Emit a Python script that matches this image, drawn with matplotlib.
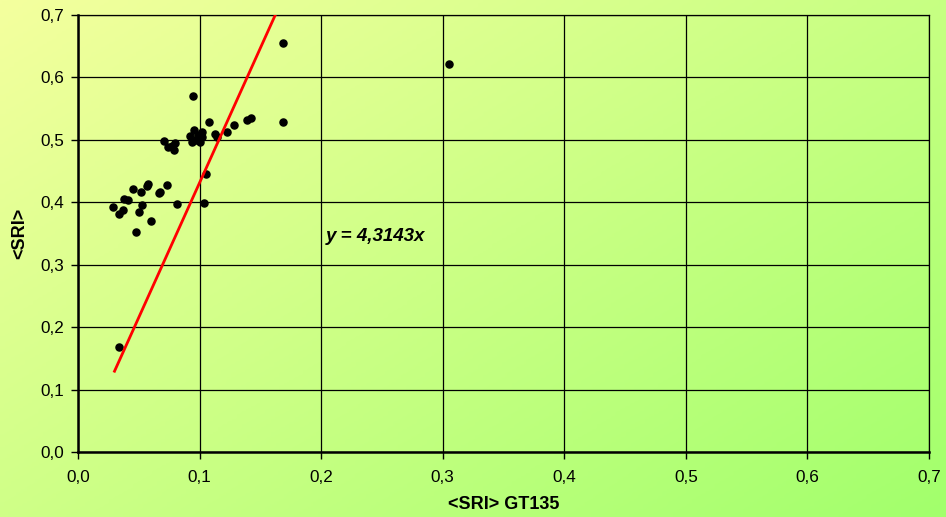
import numpy as np
import matplotlib
matplotlib.use("Agg")
import matplotlib.pyplot as plt
from matplotlib.colors import LinearSegmentedColormap

plt.rcParams['font.family'] = ['Liberation Sans', 'DejaVu Sans']

# données
gt135 = [0.0337, 0.169, 0.305, 0.169, 0.0946, 0.1074, 0.1286, 0.1387, 0.1423,
         0.1228, 0.1127, 0.114, 0.0957, 0.1017, 0.102, 0.092, 0.0935, 0.1003,
         0.097, 0.099, 0.0707, 0.0743, 0.0798, 0.079, 0.077, 0.1050, 0.104,
         0.0817, 0.073, 0.0669, 0.0674, 0.0455, 0.0515, 0.0564, 0.0578,
         0.0378, 0.041, 0.029, 0.034, 0.0373, 0.053, 0.050, 0.0597, 0.0477]
sri = [0.168, 0.655, 0.622, 0.529, 0.571, 0.528, 0.524, 0.532, 0.535,
       0.513, 0.510, 0.505, 0.515, 0.512, 0.505, 0.506, 0.496, 0.496,
       0.500, 0.508, 0.498, 0.489, 0.495, 0.483, 0.490, 0.445, 0.399,
       0.397, 0.428, 0.415, 0.417, 0.421, 0.417, 0.426, 0.429,
       0.405, 0.404, 0.392, 0.381, 0.388, 0.396, 0.385, 0.370, 0.353]

pente = 4.3143
x_fit = [0.03, 0.7 / pente]

fig = plt.figure(figsize=(9.46, 5.17), dpi=100)

# fond en dégradé
bg = fig.add_axes([0, 0, 1, 1], zorder=-10)
cmap = LinearSegmentedColormap.from_list("fond", ["#f4ff9e", "#a2ff6c"])
gx, gy = np.meshgrid(np.linspace(0, 1, 200), np.linspace(0, 1, 200))
bg.imshow(gx * 0.55 + gy * 0.45, cmap=cmap, aspect='auto', extent=[0, 1, 0, 1],
          origin='upper', vmin=0, vmax=1)
bg.axis('off')

ax = fig.add_axes([0.0825, 0.1257, 0.8995, 0.8453])
ax.patch.set_alpha(0)

ax.scatter(gt135, sri, s=26, color='black', zorder=3)
ax.plot(x_fit, [pente * v for v in x_fit], color='red', lw=2, zorder=4)

ax.set_xlim(0, 0.7)
ax.set_ylim(0, 0.7)
ticks = np.arange(0, 0.71, 0.1)
labels = [f"{t:.1f}".replace('.', ',') for t in ticks]
ax.set_xticks(ticks)
ax.set_xticklabels(labels)
ax.set_yticks(ticks)
ax.set_yticklabels(labels)
ax.tick_params(direction='out', length=5, width=1, labelsize=12.3, colors='black')
ax.tick_params(axis='x', pad=8)
ax.tick_params(axis='y', pad=5)
ax.grid(True, color='black', lw=0.9)
ax.set_axisbelow(True)
for s in ax.spines.values():
    s.set_linewidth(0.9)
ax.spines['left'].set_linewidth(1.8)
ax.spines['bottom'].set_linewidth(1.8)

ax.set_xlabel("<SRI> GT135", fontsize=13, fontweight='bold', labelpad=8)
ax.set_ylabel("<SRI>", fontsize=13, fontweight='bold', labelpad=9)

ax.text(0.204, 0.346, "y = 4,3143x", fontsize=13.5, fontweight='bold',
        fontstyle='italic', va='center', ha='left')

fig.savefig("out.png", dpi=100)
